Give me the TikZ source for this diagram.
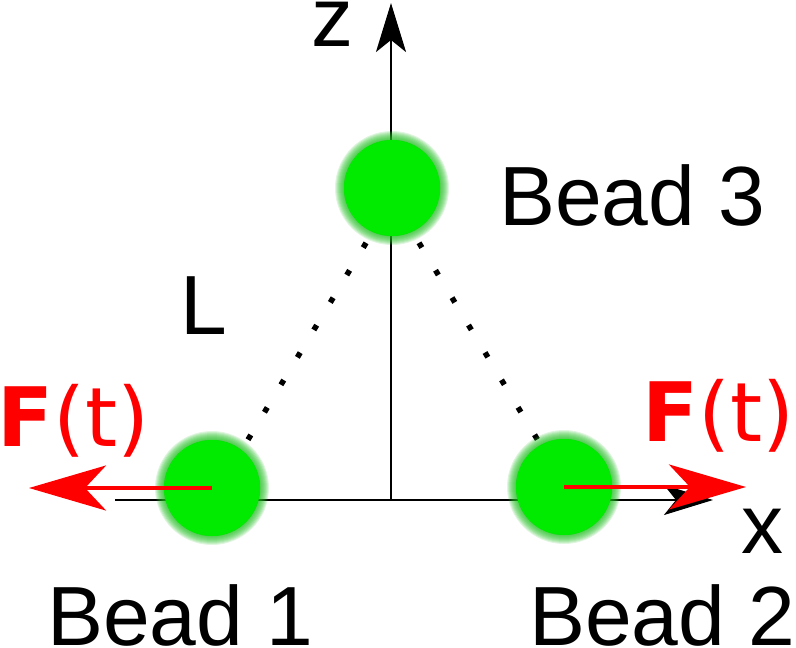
\documentclass[tikz,border=0pt]{standalone}
\usepackage{fontspec}
\setmainfont{Liberation Sans}
\newfontfamily\forcefont{DejaVu Sans}
\usetikzlibrary{arrows.meta, calc}
\definecolor{cBead}{RGB}{0,235,0}
\definecolor{cRim}{RGB}{30,190,30}
\definecolor{cForce}{RGB}{255,0,0}
\tikzset{
  %% beads (core + soft rim)
  bead/.style={circle, fill=cBead, minimum size=96pt, inner sep=0pt},
  beadrim/.style={fill=cRim, opacity=0.14},
  %% coordinate axes
  axis/.style={-{Stealth[length=49pt, width=30pt, inset=12pt]}, line width=2.2pt, draw=black},
  %% bond lengths
  dotline/.style={line width=5.5pt, dash pattern=on 5.5pt off 26.5pt, draw=black},
  %% applied force
  forcearrow/.style={-{Stealth[length=77pt, width=45pt, inset=21pt]}, line width=4pt, draw=cForce},
  %% text labels
  lbl/.style={font=\fontsize{84}{100}\selectfont, inner sep=0pt, anchor=base west},
  flbl/.style={lbl, font=\forcefont\fontsize{82}{98}\selectfont, text=cForce},
}
\begin{document}
\begin{tikzpicture}[x=1pt, y=-1pt]
\useasboundingbox (0,0) rectangle (796,648);

%% ============================================================
%%  AXES  (origin at x=391, y=500)
%% ============================================================
\def\Ox{391}
\def\Oy{500}
\coordinate (O)    at (\Ox, \Oy);
\coordinate (ztip) at (\Ox, 3);
\coordinate (xbeg) at (115, \Oy);
\coordinate (xtip) at (713, \Oy);

\draw[axis] (O) -- (ztip);
\draw[axis] (xbeg) -- (xtip);

%% ============================================================
%%  BEADS
%% ============================================================
\node[bead] (B3) at (392, 188) {};
\node[bead] (B1) at (212, 488) {};
\node[bead] (B2) at (564, 487) {};

%% ----- bonds (drawn over the node cores, under the rims) -----
\draw[dotline] ($(B3)+(7,0)$)  -- ($(B1)+(7,0)$);
\draw[dotline] ($(B3)+(-6,0)$) -- ($(B2)+(2,0)$);

%% ----- soft rims, then cores again on top -----
\foreach \b in {B1, B2, B3} {
  \foreach \r in {49, 50, ..., 57} {
    \fill[beadrim] (\b) circle (\r pt);
  }
  \fill[cBead] (\b) circle (48pt);
}

%% ============================================================
%%  FORCES
%% ============================================================
\coordinate (F1tip) at (29, 488);
\coordinate (F2tip) at (746, 487);
\draw[forcearrow] (B1.center) -- (F1tip);
\draw[forcearrow] (B2.center) -- (F2tip);

%% ============================================================
%%  LABELS
%% ============================================================
\node[lbl] (zlab) at (311, 46)  {z};
\node[lbl] (xlab) at (741, 553) {x};
\node[lbl] (Llab) at (180, 334) {L};
\node[lbl] (B3lab) at (499, 225) {Bead 3};
\node[lbl] (B1lab) at (47, 645)  {Bead 1};
\node[lbl] (B2lab) at (529, 645) {Bead 2};
\node[flbl] (F1lab) at (-3, 446) {\bfseries F\mdseries(t)};
\node[flbl] (F2lab) at (642, 441) {\bfseries F\mdseries(t)};

\end{tikzpicture}
\end{document}
